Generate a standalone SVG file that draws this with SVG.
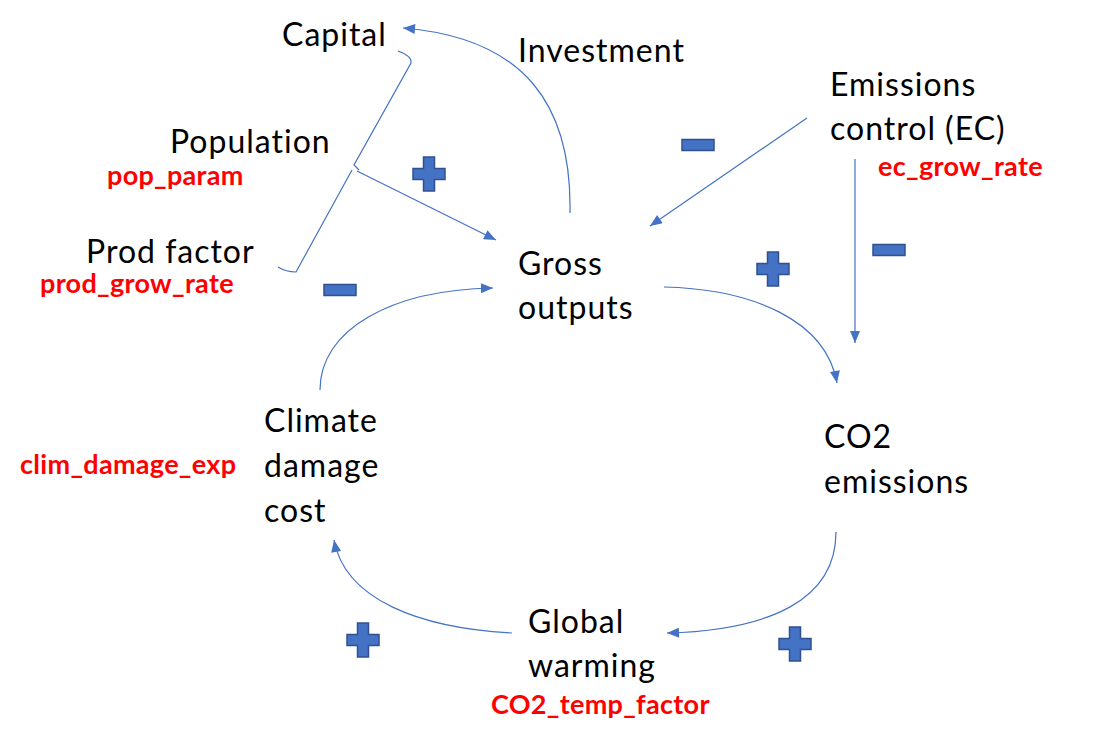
<svg xmlns="http://www.w3.org/2000/svg" width="1098" height="742" viewBox="0 0 1098 742">
<style>
.lbl{font-family:Lato,"Noto Sans",sans-serif;font-size:32px;letter-spacing:1px;fill:#000}
.par{font-family:Lato,"Noto Sans",sans-serif;font-size:27px;letter-spacing:0.3px;font-weight:bold;fill:#FF0000}
.con{fill:none;stroke:#4472C4;stroke-width:1.2}
.sign{fill:#4472C4;stroke:#2F528F;stroke-width:1.5}
</style>
<defs>
<marker id="ah" viewBox="0 0 12 10" refX="12" refY="5" markerWidth="13" markerHeight="10" markerUnits="userSpaceOnUse" orient="auto">
<path d="M0,0 L12,5 L0,10 z" fill="#4472C4"/>
</marker>
<path id="plus" d="M-5.5,-17 h11 v11.5 h10.5 v11 h-10.5 v11.5 h-11 v-11.5 h-10.5 v-11 h10.5 z"/>
<rect id="minus" x="-16" y="-5.5" width="32" height="11"/>
</defs>
<rect width="1098" height="742" fill="#fff"/>
<g id="connectors">
<path class="con" d="M570,213 C572,105 525,38 403,28" marker-end="url(#ah)"/>
<path class="con" d="M398,51 Q412,56 411,63 L354,165 L359,170"/>
<path class="con" d="M352,170 L296,272 Q286,272 278,267"/>
<path class="con" d="M357,171 L496,240" marker-end="url(#ah)"/>
<path class="con" d="M807,118 L650,226" marker-end="url(#ah)"/>
<path class="con" d="M855,159 L855,343" marker-end="url(#ah)"/>
<path class="con" d="M664,287 C752,289 826,320 837,383" marker-end="url(#ah)"/>
<path class="con" d="M320,390 C320,330 390,290 493,288" marker-end="url(#ah)"/>
<path class="con" d="M836,532 C836,600 770,630 667,633" marker-end="url(#ah)"/>
<path class="con" d="M512,633 C420,628 345,600 334,540" marker-end="url(#ah)"/>
</g>
<g id="signs">
<use href="#plus" class="sign" x="429" y="174"/>
<use href="#minus" class="sign" x="698" y="145"/>
<use href="#plus" class="sign" x="773" y="269"/>
<use href="#minus" class="sign" x="889" y="250"/>
<use href="#minus" class="sign" x="340" y="290"/>
<use href="#plus" class="sign" x="363" y="640"/>
<use href="#plus" class="sign" x="795" y="644"/>
</g>
<g id="capital"><text class="lbl" x="282" y="46">Capital</text></g>
<g id="investment"><text class="lbl" x="518" y="62">Investment</text></g>
<g id="emissions-control"><text class="lbl" x="830" y="96">Emissions</text><text class="lbl" x="830" y="140">control (EC)</text><text class="par" x="878" y="176">ec_grow_rate</text></g>
<g id="population"><text class="lbl" x="170" y="153">Population</text><text class="par" x="107" y="185">pop_param</text></g>
<g id="prod-factor"><text class="lbl" x="86" y="263">Prod factor</text><text class="par" x="40" y="293">prod_grow_rate</text></g>
<g id="gross-outputs"><text class="lbl" x="518" y="275">Gross</text><text class="lbl" x="518" y="319">outputs</text></g>
<g id="climate-damage"><text class="lbl" x="264" y="432">Climate</text><text class="lbl" x="264" y="477">damage</text><text class="lbl" x="264" y="522">cost</text><text class="par" x="20" y="474">clim_damage_exp</text></g>
<g id="co2-emissions"><text class="lbl" x="824" y="448">CO2</text><text class="lbl" x="824" y="493">emissions</text></g>
<g id="global-warming"><text class="lbl" x="528" y="633">Global</text><text class="lbl" x="528" y="677">warming</text><text class="par" x="491" y="714">CO2_temp_factor</text></g>
</svg>
